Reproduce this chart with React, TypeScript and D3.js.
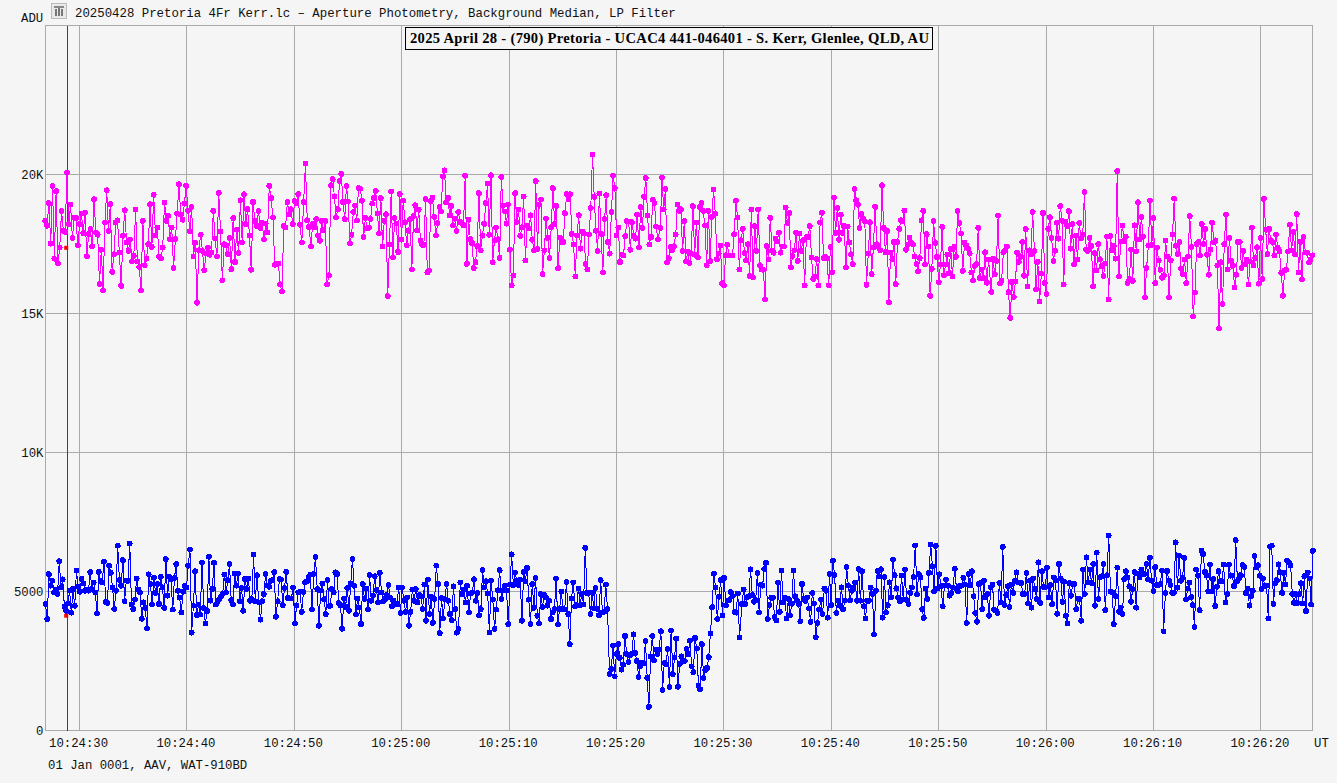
import * as d3 from "d3";
import { useEffect, useRef } from "react";

const WIDTH = 1337;
const HEIGHT = 783;

const fileTitle = "20250428 Pretoria 4Fr Kerr.lc \u2013 Aperture Photometry, Background Median, LP Filter";
const chartTitle = "2025 April 28 - (790) Pretoria - UCAC4 441-046401 - S. Kerr, Glenlee, QLD, AU";
const footer = "01 Jan 0001, AAV, WAT-910BD";

const yTicks = [0, 5000, 10000, 15000, 20000];
const yLabels = ["0", "5000", "10K", "15K", "20K"];
// seconds after 10:24:00
const xTicks = [30, 40, 50, 60, 70, 80, 90, 100, 110, 120, 130, 140];
const cursorSecond = 28.85;
const cursorValues = [17370, 4130];

// target star + comparison (magenta) in ADU
const magentaA = [18340,18160,18980,17520,19590,16980,19410,16820,17380,18700,17980,17940,20070,18220,18920,17720,18460,18440,17460,18220,18600,17900,18630,17060,17860,18040,17420,19120,17920,17840,16060,17300,15840,18280,19440,17980,18940,16500,17140,18280,18360,17200,16000,17800,18720,17560,17260,17670,16880,17080,18740,16880,16680,15840,18340,16740,16980,17500,18940,17400,19280,17820,18100,17040,17000,17380,19000,18340,18520,17680,18100,16640,17680,18600,19660,18560,18380,18960,19600,18700,17960,18840,17060,17560,15390,17280,17840,17260,16560,17160,17380,17120,17200,18700,17700,17060,19350,17960,16200,17500,17460,17140,17720,16600,18440,16860,18020,17180,19080,17560,19300,18220,18760,17820,16580,19020,18340,18160,18700,18080,18280,17670,18240,17920,19600,19160,18460,16760,16780,16800,16060,15800,18160,18100,19010,18580,18760,18220,19060,18980,19300,18200,17560,19010,20400,18360,18120,17420,18220,18100,18400,17800,17620,18340,18000,18340,16060,16380];
const magentaB = [19620,19840,19220,18460,18760,19780,20030,19020,18400,19590,19040,17520,17840,18660,18880,18350,19520,19500,19060,17760,18450,18060,18090,18400,18960,19160,19410,18600,17880,19160,17420,18340,18580,15630,17480,19400,17020,18440,18240,17220,19300,17660,19070,18290,17460,17980,18400,16590,18520,18900,17990,18740,17630,17480,17480,19120,16480,16550,19050,19180,18480,17810,18260,18840,18680,19940,20160,19000,19160,18530,18880,18170,18420,17970,18660,18300,18260,18170,19960,16790,18380,17680,17540,16640,16850,17430,19340,17280,17810,18230,18980,19680,17840,19980,16850,17640,18100,17680,17010,19920,18880,18680,18240,18930,17300,16020,16370,19340,18300,18740,17800,18110,19220,16910,18160,18060,18540,17660,17280,19770,17330,18920,19110,16420,17280,18420,17730,17000,18110,19520,18230,18880,16640,17740,17580,17580,18620,19300,19120,19300,17870,17490,16340,17810,18540,17340,17960,17900,16790,16590,17850,18800,20730,19200,17980,17250,19320,17870,16480,18400,19260,17580,17160,18660,19970,19520,17820,18100,16860,17120,17090,17790,18330,18320,17300,18290,17790,17700,18560,17380,18830,18090,19200,19880,18530,17490,17760,19100,18990,18140,17670];
const magentaC = [18080,19900,18750,19480,16840,17000,17400,17280,17430,17850,18920,18700,18760,17260,18330,16880,17240,16820,17160,18870,17120,18280,17020,18840,18980,18700,18170,16740,18700,16890,18480,19470,18600,16960,17160,17450,16100,16020,17100,17480,17090,17090,17090,17860,19060,18460,16590,17640,18050,17180,16920,17500,16350,18750,16300,18150,17260,18750,16740,16590,16580,15510,17430,16950,18450,17260,17190,17700,17600,17910,17190,17420,17420,18820,18260,18620,16670,17070,17280,17910,16900,17880,17260,17640,16020,17760,17760,18150,17020,16250,16340,16960,16010,18280,18630,17000,17040,16980,16020,17400,16490,19180,17910,18800,17660,18560,17910,18160,16660,18140,17560,17140,16780,19490,19080,18920,18080,18580,18410,18320,16040,17160,18290,16420,17380,18840,17500,17400,17280,19620,18090,17210,17970,15410,17200,16960,17580,16060,17580,18050,18360,18340,18710,17300,17480,17740,17560,17500,17060,16790,16530,17000,18360,18700,16770,17860,17420,15640,16610,18330,17540,17040,16130,16770,18120,16380,16770,17130,16460,17320,16340,17400,17040,18690,18260,17880,16540,17560,17460,17360,17180,16480,16190,16720,16780,18090,16280,16580,16280,17210,16110,16950];
const magentaD = [15780,16970,16420,16900,18530,16080,16200,17210,17260,17420,15770,14850,16140,15600,16160,17200,16860,17040,17580,16360,18040,15980,17280,17140,18660,17260,15880,16860,15440,16440,18620,16100,15710,18050,18470,17720,16900,17260,18270,17700,18870,18340,16050,18300,18160,18690,17340,18220,16780,17810,16950,18260,17700,17840,19380,17300,17260,17730,17440,15990,17180,16550,17500,16960,16700,16350,16800,17780,15510,17790,17280,17440,16980,20130,16340,17600,18170,17620,17760,16100,16240,17300,16180,18180,17240,19010,17670,18480,17780,15580,16640,17450,19070,17480,18440,16100,17370,16910,16580,16290,16380,17630,17060,15580,16920,17840,19140,17440,17150,17580,16610,16420,16950,16100,17060,18510,17400,14900,15760,17500,17580,17100,18220,17500,18040,17120,16400,17310,18270,17560,17640,16740,14460,16850,15340,17500,18560,16590,17720,16900,16720,15940,16400,17580,17580,16640,17260,16780,16950,16050,16880,18090,16740,17000,17390,16080,17720,16240,19130,18020,17140,18050,17640,17570,17090,17850,17370,17240,16470,15640,16560,16580,17240,18200,17280,17940,17130,18580,16480,17580,16230,17760,17200,17190,16840,16950,17100];

// comparison star (blue)
const blueA = [4550,4010,5630,5210,5390,4970,5050,4910,6090,5150,5440,4450,4310,4570,5030,4240,5090,4490,5750,5170,4990,5460,5290,5030,5050,5030,5700,5090,5330,4960,4210,5710,5390,5330,6070,4630,4590,5930,5670,5150,4370,5030,6650,5410,5210,6130,4650,5390,5390,6730,4530,4370,4710,5470,5070,4970,4020,4610,4410,3670,5620,5270,4530,5500,4940,5270,4550,5530,5150,4410,6170,4850,5530,5450,4350,5490,5990,5030,4790,4250,4990,5210,5150,5930,6510,3520,4490,5730,4150,4530,4170,6040,4410,3850,4300,6250,4670,5090,6030,4530,4620,4730,4810,4910,5610,4970,5410,5990,4690,4550,5650,5210,5650,4650,5130,4310,5450,5090,5470,4670,4730,6330,4650,5590,4610,3990,4650,4910,5630,5210,5170,5390,5410,5700,4090,4650,5450,5430,4510,5130,5710,4770,4750,4750,5150,3850,4490,4970,4990,4270,4980,5330,5370,5510,5610,4350,5630,6250,5090,3770,5030,5290,4730,4190,5410,4480];
const blueB = [4490,5090,4970,5690,5630,4590,4490,3660,4750,4450,5130,4310,5290,6170,5210,4170,4750,4430,3830,5270,4730,5110,4350,5590,4670,4850,5550,5050,4610,5670,4970,4650,4730,4870,5230,4790,4470,4670,4550,4550,5150,4230,5150,4670,4270,4790,3770,4270,5070,4670,5090,4610,4870,4830,4370,5250,3950,5430,4190,4810,3870,4730,5930,5270,3500,4770,4030,4730,5270,4670,4190,3970,5190,4370,3520,3650,5330,4910,5070,4610,5210,4250,4930,4970,5440,4670,4950,4150,4370,5770,5150,5370,4930,3530,5390,4710,3660,4350,5050,5770,4730,5050,5210,5030,3830,5250,6340,5230,5690,5390,5230,5430,3950,5710,5370,5850,4710,3830,5270,4410,5490,4130,3850,4910,4450,4870,4790,4490,4670,4010,4250,4370,5470,3810,4370,5000,4370,4350,5340,4190,3110,4750,5330,4470,4510,5110,4510,4910,4540,6570,4950,4950,4190,4950,4390,5130,4370,4150,5410,4250,4270,5250,4370];
const blueDip = [2030,2210,3050,1950,2750,3110,2610,2190,2370,3400,2750,2460,2710,2750,3460,2790,2500,1920,2310,2430,2420,3220,1890,850,2670,3400,2520,2910,2750,2910,3570,1450,2430,2390,2930,1570,3600,2030,2630,3310,1570,2390,2670,2510,2500,2930,2750,3230,2310,2100,3330,2950,1620,1480,3110,1890,2170,2250,2640,3490,4440,5640,5150,4010,4810,5410,4140,5490,4500,4670,4690,4980,4840,4260,4240,4930,3350];
const blueD = [4550,5070,4550,4790,4830,5800,4870,4630,4690,5670,4250,5250,5210,5810,6030,4010,4510,4770,4780,4090,3960,5330,4270,5750,4610,4790,4030,4730,4150,4560,5760,4830,4670,4560,3930,5270,4730,4660,4790,4390,3910,4950,4570,3350,3870,4360,4710,4190,5110,5030,4060,5630,4510,6110,5590,4230,4670,4490,5150,4360,4680,5880,5210,4690,5030,5150,5330,4670,5810,4670,5730,4470,4030,4670,4670,5150,4910,3460,5030,5740,5550,5800,4060,5520,4250,4510,5330,4790,6150,5590,5110,4770,4650,5570,4710,5790,4690,4550,4950,5150,5530,6660,4900,5630,5510,4370,4050,5110,4730,5670,6690,5910,5010,6640,5110,5620,5190,4470,5210,5430,5210,4850,4950,5150,5820,5110,5000,5210,5210,5500,5250,3870,5630,5230,5730,4830,4230,3910,5270,5310,4370,5390,4790,4910,4130,5150,5250,4350,4310,4230,5310,4610,6610,4510,4870,5190,4440,5250,4950,5390,5690,5330];
const blueE = [5300,4910,4910,5670,4570,5390,4420,5470,5090,4730,6050,4590,5730,5170,5150,5850,4790,5230,4550,5510,5390,4200,5990,5470,4630,5350,4130,3850,5300,4850,5270,5270,4370,4750,4730,3950,5790,4910,6230,5330,5790,5300,5990,4490,6400,4730,5510,5550,5990,4330,5590,7020,5010,4970,3830,4830,5860,4270,4430,4190,5450,5730,5510,5190,4630,5090,5710,4420,5640,5510,5790,5610,5630,5990,5430,6210,5390,5020,5880,5230,5230,5270,5750,3570,4950,5740,5390,5230,4950,4950,6770,5140,6290,5390,5510,6210,4710,5110,5330,4800,4510,3730,5790,5570,4330,6470,6350,5710,5570,5010,5970,5010,5450,4480,5170,5730,5370,5370,5970,4610,4910,5970,5570,5570,5200,6850,5370,5470,5590,5950,5890,4950,5110,4490,4830,5020,6280,5870,5950,5570,5090,5470,5210,5210,4030,6610,6650,4560,5300,5410,5980,5690,4950,5670,5260,6110,6050,5930,4910,4590,4910,4590,4910,5300,4570,5550,4300,5690,5470,4530,6460];

// first and last sample second of each stretch of readings
const magentaSpans: [number, number, number[]][] = [
	[26.81, 53.22, magentaA],
	[53.41, 83.85, magentaB],
	[84.07, 114.64, magentaC],
	[114.89, 144.78, magentaD],
];
const blueSpans: [number, number, number[]][] = [
	[26.83, 53.25, blueA],
	[53.34, 79.16, blueB],
	[79.35, 91.45, blueDip],
	[91.68, 117.4, blueD],
	[117.68, 144.84, blueE],
];

const toPoints = (spans: [number, number, number[]][]) =>
	spans.flatMap(([from, to, values]) => {
		const t = d3.scaleLinear().domain([0, values.length - 1]).range([from, to]);
		return values.map((v, i) => ({ sec: t(i), value: v }));
	});

const at = (sec: number) => new Date(Date.UTC(2025, 3, 28, 10, 24, 0) + sec * 1000);

const App = () => {
	const svgRef = useRef<SVGSVGElement>(null);

	useEffect(() => {
		const svg = d3.select(svgRef.current);
		svg.selectAll("*").remove();

		const mono = "'Liberation Mono', monospace";
		const left = 45.5,
			right = 1312.5,
			top = 25.5,
			bottom = 730.5;

		const x = d3.scaleUtc().domain([at(26.83), at(144.8)]).range([left, right]);
		const y = d3.scaleLinear().domain([0, 25370]).range([bottom, top]);

		svg.append("rect").attr("width", WIDTH).attr("height", HEIGHT).attr("fill", "#f5f5f5");

		// Grid lines and frame
		const grid = svg.append("g").attr("stroke", "#aaa").attr("shape-rendering", "crispEdges");
		grid
			.selectAll("line.v")
			.data(xTicks)
			.join("line")
			.attr("x1", (d) => Math.floor(x(at(d))) + 0.5)
			.attr("x2", (d) => Math.floor(x(at(d))) + 0.5)
			.attr("y1", top)
			.attr("y2", bottom);
		grid
			.selectAll("line.h")
			.data(yTicks)
			.enter()
			.append("line")
			.attr("x1", left)
			.attr("x2", right)
			.attr("y1", (d) => Math.round(y(d) - 0.5) + 0.5)
			.attr("y2", (d) => Math.round(y(d) - 0.5) + 0.5);
		grid
			.append("rect")
			.attr("x", left)
			.attr("y", top)
			.attr("width", right - left)
			.attr("height", bottom - top)
			.attr("fill", "none");

		// Cursor
		svg
			.append("line")
			.attr("x1", Math.floor(x(at(cursorSecond))) + 0.5)
			.attr("x2", Math.floor(x(at(cursorSecond))) + 0.5)
			.attr("y1", top)
			.attr("y2", bottom)
			.attr("stroke", "#e00000")
			.attr("shape-rendering", "crispEdges");

		// Series
		const line = d3
			.line<{ sec: number; value: number }>()
			.x((d) => x(at(d.sec)))
			.y((d) => y(d.value));

		[
			{ spans: magentaSpans, color: "#ff00ff" },
			{ spans: blueSpans, color: "#0000ff" },
		].forEach(({ spans, color }) => {
			const points = toPoints(spans);
			const g = svg.append("g");
			g.append("path")
				.attr("d", line(points))
				.attr("fill", "none")
				.attr("stroke", color)
				.attr("stroke-width", 1)
				.attr("shape-rendering", "crispEdges");
			g.selectAll("circle")
				.data(points)
				.join("circle")
				.attr("cx", (d) => x(at(d.sec)))
				.attr("cy", (d) => y(d.value))
				.attr("r", 2.9)
				.attr("fill", color)
				.attr("shape-rendering", "crispEdges");
		});

		svg
			.selectAll("rect.cursor")
			.data(cursorValues)
			.enter()
			.append("rect")
			.attr("x", x(at(cursorSecond)) - 3)
			.attr("y", (d) => y(d) - 2)
			.attr("width", 4)
			.attr("height", 4)
			.attr("fill", "#ff0000");

		// Axes
		const xAxis = svg
			.append("g")
			.attr("transform", `translate(-1.5,${bottom})`)
			.call(
				d3
					.axisBottom(x)
					.tickValues(xTicks.map(at))
					.tickSize(0)
					.tickFormat((d) => d3.utcFormat("%H:%M:%S")(d as Date))
			);
		xAxis.select(".domain").remove();
		xAxis.selectAll("text").attr("y", 16.5).attr("dy", 0);

		const yAxis = svg
			.append("g")
			.attr("transform", `translate(${left},0)`)
			.call(
				d3
					.axisLeft(y)
					.tickValues(yTicks)
					.tickSize(0)
					.tickPadding(2)
					.tickFormat((_, i) => yLabels[i])
			);
		yAxis.select(".domain").remove();

		[xAxis, yAxis].forEach((a) =>
			a.attr("font-family", mono).attr("font-size", 12.3).selectAll("text").attr("fill", "#111")
		);

		const label = (text: string, tx: number, ty: number, size = 12.3) =>
			svg
				.append("text")
				.attr("x", tx)
				.attr("y", ty)
				.attr("font-family", mono)
				.attr("font-size", size)
				.attr("fill", "#111")
				.text(text);

		label("ADU", 21, 22);
		label("UT", 1314, 747);
		label(fileTitle, 75, 17, 12.36);
		label(footer, 48, 769);

		// App icon next to the file name
		const icon = svg.append("g").attr("transform", "translate(51,3)").attr("shape-rendering", "crispEdges");
		icon.append("rect").attr("x", 0.5).attr("y", 0.5).attr("width", 15).attr("height", 15).attr("fill", "#e8e8e8").attr("stroke", "#bbb");
		icon.append("rect").attr("x", 3).attr("y", 3).attr("width", 10).attr("height", 2).attr("fill", "#888");
		icon.append("rect").attr("x", 4).attr("y", 6).attr("width", 2).attr("height", 7).attr("fill", "#777");
		icon.append("rect").attr("x", 7).attr("y", 5).attr("width", 2).attr("height", 8).attr("fill", "#777");
		icon.append("rect").attr("x", 10).attr("y", 6).attr("width", 2).attr("height", 7).attr("fill", "#777");

		// Title box
		svg
			.append("rect")
			.attr("x", 405.5)
			.attr("y", 27.5)
			.attr("width", 527)
			.attr("height", 22)
			.attr("fill", "#f5f5f5")
			.attr("stroke", "#000")
			.attr("shape-rendering", "crispEdges");
		svg
			.append("text")
			.attr("x", 410)
			.attr("y", 43)
			.attr("font-family", "'Liberation Serif', serif")
			.attr("font-weight", "bold")
			.attr("font-size", 14.6)
			.attr("textLength", 519)
			.attr("lengthAdjust", "spacing")
			.attr("fill", "#000")
			.text(chartTitle);
	}, []);

	return (
		<svg
			ref={svgRef}
			width={WIDTH}
			height={HEIGHT}
			style={{ position: "absolute", top: 0, left: 0, display: "block" }}
		/>
	);
};

export default App;
